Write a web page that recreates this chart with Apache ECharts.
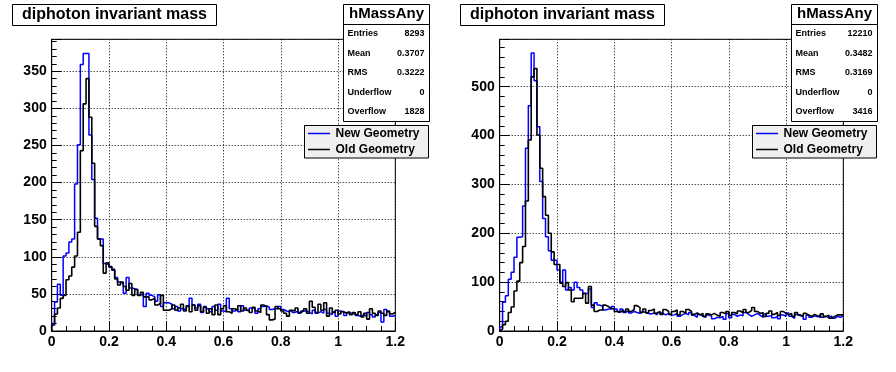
<!DOCTYPE html>
<html>
<head>
<meta charset="utf-8">
<script src="https://cdn.jsdelivr.net/npm/echarts@6/dist/echarts.min.js"></script>
<style>
html,body{margin:0;padding:0;background:#fff;}
#c{width:896px;height:372px;}
</style>
</head>
<body>
<div id="c"></div>
<script>
// ---- data ----
var binWidth = 0.01;
var xMax = 1.2;
var leftNew = [10,39,63,48,101,105,120,124,198,251,359,374,374,264,204,152,124,124,
91,89,86,82,72,66,64,51,72,58,57,56,48,50,33,51,48,46,40,49,33,38,38,
36,30,33,27,30,28,33,44,35,31,
36,25,33,30,26,33,28,36,27,26,
44,30,27,29,26,34,28,27,31,30,
24,30,33,34,32,29,30,30,33,29,
27,26,28,25,27,24,27,27,25,23,
28,24,26,24,29,24,22,26,20,27,
26,21,25,23,24,21,20,22,20,25,
22,19,22,25,12,29,26,20,21];
var leftOld = [8,23,31,44,48,69,74,86,101,133,243,306,340,288,226,141,124,115,
78,92,87,83,70,62,66,60,55,64,48,56,48,52,46,46,42,44,35,37,48,28,28,
30,35,28,31,36,27,34,26,35,28,
34,26,32,24,30,22,35,22,30,34,
26,24,30,28,34,27,31,28,25,32,
27,25,35,33,22,15,16,33,30,27,
24,20,28,27,31,25,27,30,24,40,
32,25,36,28,38,20,31,25,28,23,
26,24,26,22,25,22,26,19,24,16,
30,24,21,27,24,21,27,23,25];
var rightNew = [8,59,72,106,120,151,192,193,256,374,461,569,512,418,306,230,193,164,145,145,125,
100,125,84,89,84,100,89,84,77,77,86,48,58,53,50,43,45,45,50,45,
40,45,38,42,37,40,38,36,40,38,
36,35,37,33,38,36,33,36,32,33,
36,30,34,36,33,38,32,28,34,30,
28,33,30,25,28,27,30,24,36,27,
34,30,33,31,38,34,30,33,36,32,
28,35,30,32,27,30,25,33,30,37,
30,26,34,31,30,24,33,28,31,29,
33,28,30,27,31,26,30,28,31];
var rightOld = [4,13,20,38,49,82,102,140,173,266,391,520,537,401,333,275,237,200,162,136,136,
98,91,99,84,60,67,67,67,77,57,91,53,40,43,43,53,50,46,45,40,
38,42,38,45,40,44,52,48,38,45,
37,42,45,36,40,34,44,40,34,40,
43,33,40,36,44,40,34,37,33,36,
30,35,33,36,32,30,38,35,40,32,
38,35,41,37,44,38,42,48,40,36,
38,30,36,41,34,38,32,40,36,33,
36,30,38,33,30,36,32,30,34,31,
28,35,30,32,26,30,33,33,33];

var titleText = "diphoton invariant mass";
var statsName = "hMassAny";
var statLabels = ["Entries","Mean","RMS","Underflow","Overflow"];
var leftStats = ["8293","0.3707","0.3222","0","1828"];
var rightStats = ["12210","0.3482","0.3169","0","3416"];
var legendNames = ["New Geometry","Old Geometry"];
var leftYMax = 393, leftYInterval = 50;
var rightYMax = 597, rightYInterval = 100;

// ---- build ----
function hist(vals){
  var pts=[[0,0]];
  for(var i=0;i<vals.length;i++){ pts.push([i*binWidth, vals[i]]); }
  pts.push([xMax, vals[vals.length-1]]);
  return pts;
}
var FONT = '"Liberation Sans", Arial, Helvetica, sans-serif';
var DOT = [1,2];
function xAxisCfg(gi){
  return {
    type:'value', gridIndex:gi, min:0, max:xMax, interval:0.2,
    axisLine:{show:true,lineStyle:{color:'#000',width:1}},
    axisTick:{show:true,inside:true,length:10,lineStyle:{color:'#000'}},
    minorTick:{show:true,splitNumber:4,length:5,lineStyle:{color:'#000'}},
    splitLine:{show:true,lineStyle:{color:'#000',type:DOT,width:1}},
    axisLabel:{color:'#000',fontFamily:FONT,fontWeight:'bold',fontSize:14,margin:4,
      formatter:function(v){return String(Math.round(v*10)/10);}}
  };
}
function yAxisCfg(gi,max,intv){
  return {
    type:'value', gridIndex:gi, min:0, max:max, interval:intv,
    axisLine:{show:true,lineStyle:{color:'#000',width:1}},
    axisTick:{show:true,inside:true,length:10,lineStyle:{color:'#000'}},
    minorTick:{show:true,splitNumber:5,length:5,lineStyle:{color:'#000'}},
    splitLine:{show:true,lineStyle:{color:'#000',type:DOT,width:1}},
    axisLabel:{color:'#000',fontFamily:FONT,fontWeight:'bold',fontSize:14,margin:5,showMaxLabel:false}
  };
}
function seriesCfg(gi,vals,color,z,w){
  return {type:'line',xAxisIndex:gi,yAxisIndex:gi,step:'end',symbol:'none',
    data:hist(vals),lineStyle:{color:color,width:w},z:z,animation:false,silent:true};
}
function panelGraphics(ox,stats){
  var g=[];
  g.push({type:'rect',shape:{x:ox+12.5,y:4.5,width:204,height:21},style:{fill:'#fff',stroke:'#000',lineWidth:1},z:100});
  g.push({type:'text',x:ox+114.5,y:15,style:{text:titleText,font:'bold 16px '+FONT,fill:'#000',textAlign:'center',textVerticalAlign:'middle'},z:101});
  g.push({type:'rect',shape:{x:ox+343.5,y:4.5,width:86,height:117},style:{fill:'#fff',stroke:'#000',lineWidth:1},z:100});
  g.push({type:'line',shape:{x1:ox+343.5,y1:24.5,x2:ox+429.5,y2:24.5},style:{stroke:'#000',lineWidth:1},z:101});
  g.push({type:'text',x:ox+386.5,y:14,style:{text:statsName,font:'bold 15px '+FONT,fill:'#000',textAlign:'center',textVerticalAlign:'middle'},z:101});
  var rowsY=[34,54,73,93,112];
  for(var i=0;i<statLabels.length;i++){
    g.push({type:'text',x:ox+347.5,y:rowsY[i],style:{text:statLabels[i],font:'bold 9px '+FONT,fill:'#000',textAlign:'left',textVerticalAlign:'middle'},z:101});
    g.push({type:'text',x:ox+424.5,y:rowsY[i],style:{text:stats[i],font:'bold 9px '+FONT,fill:'#000',textAlign:'right',textVerticalAlign:'middle'},z:101});
  }
  g.push({type:'rect',shape:{x:ox+304.5,y:125.5,width:124,height:32.5},style:{fill:'#f0f0f0',stroke:'#000',lineWidth:1},z:100});
  g.push({type:'line',shape:{x1:ox+308,y1:133.5,x2:ox+330,y2:133.5},style:{stroke:'#0000ff',lineWidth:1.5},z:101});
  g.push({type:'line',shape:{x1:ox+308,y1:149.5,x2:ox+330,y2:149.5},style:{stroke:'#000000',lineWidth:1.5},z:101});
  g.push({type:'text',x:ox+335.5,y:133.5,style:{text:legendNames[0],font:'bold 12px '+FONT,fill:'#000',textAlign:'left',textVerticalAlign:'middle'},z:101});
  g.push({type:'text',x:ox+335.5,y:149.5,style:{text:legendNames[1],font:'bold 12px '+FONT,fill:'#000',textAlign:'left',textVerticalAlign:'middle'},z:101});
  return g;
}
var chart = echarts.init(document.getElementById('c'),null,{renderer:'canvas'});
chart.setOption({
  animation:false,
  backgroundColor:'#fff',
  grid:[
    {left:51.7,top:39.3,width:343.6,height:291.7,show:true,borderColor:'#000',borderWidth:1,backgroundColor:'#fff'},
    {left:499.7,top:39.3,width:343.6,height:291.7,show:true,borderColor:'#000',borderWidth:1,backgroundColor:'#fff'}
  ],
  xAxis:[xAxisCfg(0),xAxisCfg(1)],
  yAxis:[yAxisCfg(0,leftYMax,leftYInterval),yAxisCfg(1,rightYMax,rightYInterval)],
  series:[
    seriesCfg(0,leftNew,'#0000ff',3,1.5),
    seriesCfg(0,leftOld,'#000000',4,1.6),
    seriesCfg(1,rightNew,'#0000ff',3,1.5),
    seriesCfg(1,rightOld,'#000000',4,1.6)
  ],
  graphic:panelGraphics(0,leftStats).concat(panelGraphics(448,rightStats))
});
</script>
</body>
</html>
